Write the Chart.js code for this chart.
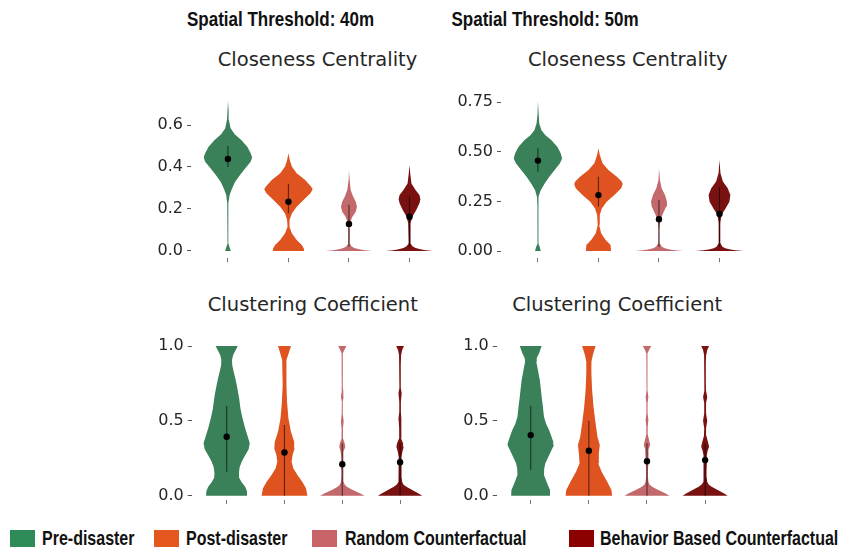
<!DOCTYPE html>
<html>
<head>
<meta charset="utf-8">
<title>Network centrality by spatial threshold</title>
<script src="https://cdn.jsdelivr.net/npm/chart.js@4.4.1/dist/chart.umd.min.js"></script>
<style>
  html, body { margin: 0; padding: 0; background: #fff; }
  #fig { position: relative; width: 843px; height: 550px; overflow: hidden; background: #fff; }
  #fig canvas { position: absolute; }
  .head { position: absolute; font: bold 17px "Liberation Sans", Arial, sans-serif; line-height: 17px; color: #111; white-space: nowrap; transform: scaleY(1.22); transform-origin: left top; }
  .sub { position: absolute; font-family: "DejaVu Sans", sans-serif; font-size: 19.5px; line-height: 19.5px; color: #262626; white-space: nowrap; transform: translateX(-50%); }
  .sw { position: absolute; width: 25px; height: 17px; top: 530px; }
  .lt { position: absolute; top: 529px; font: bold 16px "Liberation Sans", Arial, sans-serif; line-height: 16px; color: #111; white-space: nowrap; transform: scaleY(1.22); transform-origin: left top; }
</style>
</head>
<body>
<div id="fig">
  <div class="head" style="left:187px; top:9px;">Spatial Threshold: 40m</div>
  <div class="head" style="left:451.5px; top:9px;">Spatial Threshold: 50m</div>

  <div class="sub" style="left:317.5px; top:49.5px;">Closeness Centrality</div>
  <div class="sub" style="left:627.8px; top:49.5px;">Closeness Centrality</div>
  <div class="sub" style="left:312.8px; top:294.5px;">Clustering Coefficient</div>
  <div class="sub" style="left:617.2px; top:294.5px;">Clustering Coefficient</div>

  <div class="sw" style="left:10px; background:#2E8B57;"></div>
  <div class="lt" style="left:42px;">Pre-disaster</div>
  <div class="sw" style="left:154px; background:#E4581F;"></div>
  <div class="lt" style="left:186px;">Post-disaster</div>
  <div class="sw" style="left:312px; background:#C86468;"></div>
  <div class="lt" style="left:345px;">Random Counterfactual</div>
  <div class="sw" style="left:569px; background:#8B0000;"></div>
  <div class="lt" style="left:600px;">Behavior Based Counterfactual</div>
</div>

<script>
// ---- groups ----
const groups = ['Pre-disaster', 'Post-disaster', 'Random Counterfactual', 'Behavior Based Counterfactual'];

// ---- tick labels ----
const closeness40Ticks = [0, 0.2, 0.4, 0.6];
const closeness50Ticks = [0, 0.25, 0.5, 0.75];
const clusteringTicks = [0, 0.5, 1.0];

// ---- violin density profiles: [value, relative half-width] ----
// Closeness centrality, 40 m
const close40Pre = [[0,0.12],[0.017,0.07],[0.033,0.03],[0.045,0.014],[0.084,0.01],[0.163,0.014],[0.227,0.03],[0.267,0.07],[0.298,0.17],[0.33,0.3],[0.362,0.5],[0.394,0.72],[0.425,0.94],[0.446,1.0],[0.465,0.94],[0.497,0.8],[0.529,0.55],[0.556,0.28],[0.584,0.11],[0.624,0.04],[0.671,0.03],[0.714,0]];
const close40Post = [[0,0.65],[0.013,0.63],[0.029,0.55],[0.052,0.34],[0.084,0.14],[0.116,0.04],[0.135,0.035],[0.148,0.055],[0.179,0.14],[0.211,0.34],[0.243,0.62],[0.275,0.91],[0.294,1.0],[0.306,0.94],[0.338,0.69],[0.37,0.34],[0.402,0.14],[0.433,0.055],[0.465,0]];
const close40Rand = [[0,0.98],[0.004,0.65],[0.008,0.42],[0.014,0.22],[0.022,0.1],[0.035,0.04],[0.084,0.02],[0.132,0.04],[0.163,0.14],[0.187,0.28],[0.211,0.33],[0.235,0.28],[0.259,0.17],[0.29,0.07],[0.338,0.03],[0.383,0]];
const close40Beh = [[0,0.98],[0.004,0.66],[0.008,0.45],[0.014,0.25],[0.022,0.12],[0.037,0.04],[0.084,0.03],[0.132,0.055],[0.163,0.12],[0.195,0.28],[0.227,0.41],[0.246,0.45],[0.267,0.41],[0.29,0.25],[0.322,0.08],[0.37,0.03],[0.41,0]];
// Closeness centrality, 50 m
const close50Pre = [[0,0.12],[0.022,0.07],[0.036,0.025],[0.06,0.015],[0.123,0.014],[0.224,0.02],[0.274,0.04],[0.308,0.12],[0.341,0.28],[0.375,0.47],[0.408,0.69],[0.442,0.91],[0.467,1.0],[0.493,0.94],[0.526,0.8],[0.56,0.55],[0.585,0.3],[0.61,0.14],[0.644,0.055],[0.694,0.03],[0.756,0]];
const close50Post = [[0,0.52],[0.03,0.5],[0.055,0.3],[0.089,0.11],[0.131,0.03],[0.182,0.055],[0.215,0.14],[0.249,0.34],[0.282,0.66],[0.316,0.94],[0.338,1.0],[0.35,0.96],[0.375,0.76],[0.408,0.41],[0.442,0.17],[0.484,0.055],[0.518,0]];
const close50Rand = [[0,0.99],[0.004,0.66],[0.008,0.45],[0.014,0.24],[0.022,0.12],[0.039,0.03],[0.106,0.02],[0.156,0.055],[0.19,0.17],[0.224,0.3],[0.249,0.33],[0.282,0.25],[0.316,0.11],[0.358,0.04],[0.417,0]];
const close50Beh = [[0,0.99],[0.004,0.66],[0.008,0.45],[0.014,0.24],[0.022,0.12],[0.04,0.035],[0.1,0.03],[0.14,0.034],[0.182,0.08],[0.215,0.25],[0.249,0.41],[0.282,0.45],[0.316,0.34],[0.35,0.14],[0.392,0.04],[0.459,0]];
// Clustering coefficient, 40 m
const clust40Pre = [[0,0.89],[0.03,0.88],[0.06,0.8],[0.09,0.65],[0.12,0.54],[0.15,0.53],[0.19,0.56],[0.23,0.66],[0.27,0.8],[0.31,0.95],[0.35,1.0],[0.4,0.9],[0.45,0.8],[0.52,0.68],[0.58,0.6],[0.65,0.54],[0.72,0.46],[0.78,0.38],[0.83,0.3],[0.873,0.24],[0.906,0.23],[0.94,0.28],[0.97,0.38],[1.0,0.48]];
const clust40Post = [[0,0.99],[0.05,0.93],[0.094,0.77],[0.138,0.56],[0.183,0.38],[0.227,0.31],[0.272,0.35],[0.316,0.44],[0.36,0.42],[0.428,0.28],[0.517,0.17],[0.628,0.11],[0.74,0.085],[0.85,0.07],[0.906,0.1],[0.96,0.2],[1.0,0.28]];
const clust40Rand = [[0,0.96],[0.015,0.78],[0.03,0.57],[0.045,0.37],[0.06,0.2],[0.075,0.1],[0.094,0.06],[0.13,0.04],[0.161,0.04],[0.205,0.06],[0.25,0.04],[0.294,0.07],[0.327,0.13],[0.35,0.1],[0.383,0.03],[0.45,0.03],[0.495,0.06],[0.539,0.03],[0.628,0.02],[0.661,0.06],[0.695,0.045],[0.74,0.015],[0.895,0.015],[0.951,0.03],[0.973,0.09],[1.0,0.18]];
const clust40Beh = [[0,0.96],[0.015,0.8],[0.03,0.62],[0.045,0.45],[0.06,0.27],[0.075,0.14],[0.094,0.09],[0.13,0.06],[0.161,0.06],[0.22,0.07],[0.26,0.06],[0.294,0.1],[0.327,0.16],[0.35,0.13],[0.383,0.04],[0.45,0.04],[0.517,0.07],[0.56,0.035],[0.628,0.035],[0.684,0.07],[0.72,0.03],[0.873,0.03],[0.94,0.045],[0.973,0.09],[1.0,0.17]];
// Clustering coefficient, 50 m
const clust50Pre = [[0,0.84],[0.038,0.83],[0.082,0.71],[0.138,0.57],[0.18,0.58],[0.216,0.63],[0.283,0.83],[0.338,1.0],[0.361,0.97],[0.4,0.88],[0.439,0.79],[0.48,0.66],[0.528,0.57],[0.6,0.52],[0.661,0.47],[0.72,0.43],[0.773,0.39],[0.84,0.31],[0.895,0.24],[0.92,0.26],[0.951,0.36],[1.0,0.47]];
const clust50Post = [[0,1.0],[0.038,0.97],[0.094,0.79],[0.16,0.55],[0.216,0.4],[0.283,0.43],[0.338,0.47],[0.394,0.37],[0.483,0.29],[0.595,0.2],[0.706,0.14],[0.817,0.11],[0.895,0.11],[0.94,0.17],[1.0,0.29]];
const clust50Rand = [[0,0.97],[0.015,0.8],[0.03,0.6],[0.045,0.4],[0.06,0.22],[0.075,0.11],[0.094,0.06],[0.13,0.04],[0.17,0.04],[0.232,0.07],[0.27,0.05],[0.31,0.08],[0.338,0.14],[0.37,0.09],[0.41,0.03],[0.46,0.03],[0.505,0.06],[0.55,0.025],[0.62,0.025],[0.66,0.06],[0.7,0.025],[0.75,0.015],[0.9,0.015],[0.951,0.03],[0.973,0.09],[1.0,0.18]];
const clust50Beh = [[0,0.97],[0.015,0.82],[0.03,0.64],[0.045,0.46],[0.06,0.28],[0.075,0.15],[0.094,0.09],[0.13,0.06],[0.17,0.06],[0.239,0.08],[0.27,0.07],[0.3,0.11],[0.327,0.17],[0.36,0.12],[0.4,0.05],[0.45,0.04],[0.5,0.09],[0.55,0.04],[0.62,0.04],[0.66,0.09],[0.7,0.04],[0.75,0.03],[0.9,0.03],[0.94,0.045],[0.973,0.09],[1.0,0.17]];

// ---- centre points and inner ranges ----
const close40Mid = [0.438, 0.235, 0.129, 0.163];
const close40Lo  = [0.40, 0.18, 0.02, 0.02];
const close40Hi  = [0.50, 0.32, 0.22, 0.26];
const close50Mid = [0.456, 0.282, 0.16, 0.187];
const close50Lo  = [0.40, 0.224, 0.02, 0.02];
const close50Hi  = [0.518, 0.375, 0.257, 0.324];
const clust40Mid = [0.394, 0.289, 0.21, 0.223];
const clust40Lo  = [0.16, 0, 0, 0];
const clust40Hi  = [0.60, 0.472, 0.35, 0.35];
const clust50Mid = [0.405, 0.30, 0.23, 0.238];
const clust50Lo  = [0.171, 0, 0, 0];
const clust50Hi  = [0.60, 0.501, 0.35, 0.35];

// ---- styling ----
const violinColors = ['#3A8059', '#DF5320', '#C3686B', '#7A1111'];
const HALF_WIDTH = 0.4;
const TEXT = '#262626';

function violinPolygon(profile, center) {
  const right = profile.map(([v, w]) => ({ x: center + w * HALF_WIDTH, y: v }));
  const left = profile.slice().reverse().map(([v, w]) => ({ x: center - w * HALF_WIDTH, y: v }));
  return right.concat(left);
}

function makePanel(p) {
  const canvas = document.createElement('canvas');
  canvas.width = p.w;
  canvas.height = p.h;
  canvas.style.left = p.x + 'px';
  canvas.style.top = p.y + 'px';
  document.getElementById('fig').appendChild(canvas);

  const datasets = [];
  p.profiles.forEach((prof, i) => {
    datasets.push({
      type: 'line', label: groups[i], data: violinPolygon(prof, i),
      backgroundColor: violinColors[i], borderColor: violinColors[i],
      borderWidth: 0, pointRadius: 0, pointHoverRadius: 0, fill: 'shape',
      tension: 0, order: 3
    });
  });
  groups.forEach((g, i) => {
    datasets.push({
      type: 'line', label: g + ' range',
      data: [{ x: i, y: p.lo[i] }, { x: i, y: p.hi[i] }],
      borderColor: 'rgba(0,0,0,0.55)', borderWidth: 1.2,
      pointRadius: 0, fill: false, order: 2
    });
  });
  datasets.push({
    type: 'line', label: 'centre', showLine: false,
    data: p.mid.map((v, i) => ({ x: i, y: v })),
    pointRadius: 3.2, pointBackgroundColor: '#000', pointBorderWidth: 0,
    order: 1
  });

  new Chart(canvas, {
    type: 'line',
    data: { datasets },
    options: {
      responsive: false,
      devicePixelRatio: 1,
      animation: false,
      events: [],
      layout: { padding: p.pad },
      plugins: { legend: { display: false }, tooltip: { enabled: false }, title: { display: false } },
      scales: {
        x: {
          type: 'linear', min: p.xmin, max: p.xmax,
          afterBuildTicks: s => { s.ticks = groups.map((g, i) => ({ value: i })); },
          afterFit: s => { s.height = p.xh; s.paddingLeft = 0; s.paddingRight = 0; },
          ticks: { autoSkip: false, callback: () => '', padding: 0 },
          grid: { display: true, drawOnChartArea: false, drawTicks: true, tickLength: 4, tickColor: '#777', tickWidth: 1 },
          border: { display: false }
        },
        y: {
          type: 'linear', min: p.ymin, max: p.ymax,
          afterBuildTicks: s => { s.ticks = p.ticks.map(v => ({ value: v })); },
          afterFit: s => { s.width = p.yw; s.paddingTop = 0; s.paddingBottom = 0; },
          ticks: {
            callback: v => v.toFixed(p.dec),
            font: { family: 'DejaVu Sans', size: 16 }, color: TEXT, padding: 4
          },
          grid: { display: true, drawOnChartArea: false, drawTicks: true, tickLength: 4, tickColor: '#555', tickWidth: 1 },
          border: { display: false }
        }
      }
    }
  });
}

// Closeness, 40 m
makePanel({
  x: 95, y: 70, w: 355, h: 200, pad: { left: 0, right: 6, top: 10, bottom: 3.7 }, yw: 96, xh: 8,
  xmin: -0.61, xmax: 3.57, ymin: -0.0348, ymax: 0.8143, ticks: closeness40Ticks, dec: 1,
  profiles: [close40Pre, close40Post, close40Rand, close40Beh],
  mid: close40Mid, lo: close40Lo, hi: close40Hi
});
// Closeness, 50 m
makePanel({
  x: 450, y: 70, w: 315, h: 200, pad: { left: 0, right: 10.4, top: 10, bottom: 3.7 }, yw: 51, xh: 8,
  xmin: -0.61, xmax: 3.58, ymin: -0.0368, ymax: 0.8625, ticks: closeness50Ticks, dec: 2,
  profiles: [close50Pre, close50Post, close50Rand, close50Beh],
  mid: close50Mid, lo: close50Lo, hi: close50Hi
});
// Clustering, 40 m
makePanel({
  x: 95, y: 320, w: 355, h: 190, pad: { left: 0, right: 16.1, top: 10, bottom: 2 }, yw: 96.7, xh: 8,
  xmin: -0.605, xmax: 3.585, ymin: -0.0287, ymax: 1.107, ticks: clusteringTicks, dec: 1,
  profiles: [clust40Pre, clust40Post, clust40Rand, clust40Beh],
  mid: clust40Mid, lo: clust40Lo, hi: clust40Hi
});
// Clustering, 50 m
makePanel({
  x: 450, y: 320, w: 310, h: 190, pad: { left: 0, right: 22.3, top: 10, bottom: 2 }, yw: 46.7, xh: 8,
  xmin: -0.585, xmax: 3.56, ymin: -0.0287, ymax: 1.107, ticks: clusteringTicks, dec: 1,
  profiles: [clust50Pre, clust50Post, clust50Rand, clust50Beh],
  mid: clust50Mid, lo: clust50Lo, hi: clust50Hi
});
</script>
</body>
</html>
